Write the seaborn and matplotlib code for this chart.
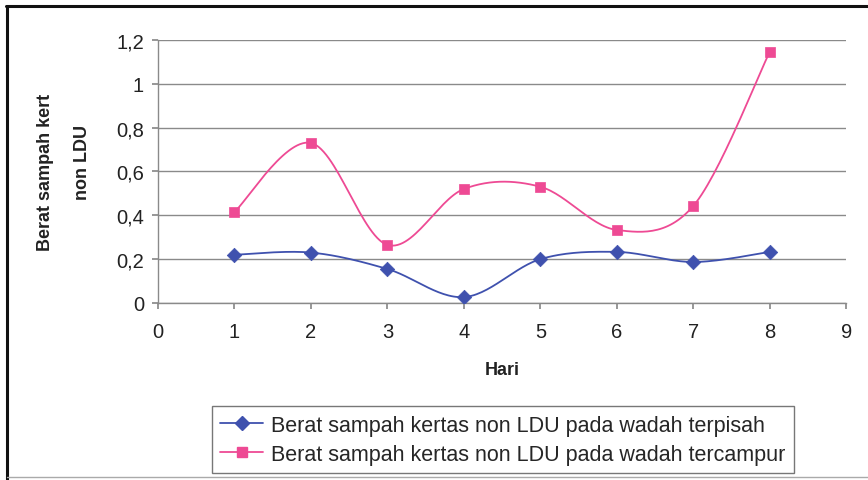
import numpy as np
import pandas as pd
import matplotlib
matplotlib.use("Agg")
import matplotlib.pyplot as plt
from matplotlib.lines import Line2D
import seaborn as sns

hari = [1, 2, 3, 4, 5, 6, 7, 8]
terpisah = [0.22, 0.23, 0.155, 0.027, 0.20, 0.233, 0.187, 0.233]
tercampur = [0.415, 0.73, 0.265, 0.52, 0.53, 0.333, 0.443, 1.146]
label_terpisah = "Berat sampah kertas non LDU pada wadah terpisah"
label_tercampur = "Berat sampah kertas non LDU pada wadah tercampur"
x_ticks = [0, 1, 2, 3, 4, 5, 6, 7, 8, 9]
y_ticks = [0, 0.2, 0.4, 0.6, 0.8, 1.0, 1.2]
y_tick_labels = ["0", "0,2", "0,4", "0,6", "0,8", "1", "1,2"]

BLUE = "#3F51AE"
PINK = "#EE4A94"

sns.set_theme(style="white")
plt.rcParams["font.family"] = ["Liberation Sans", "DejaVu Sans"]


def smooth(xs, ys, n=30):
    """Bezier smoothing through each point (Catmull-Rom style control points)."""
    P = np.column_stack([xs, ys]).astype(float)
    out = []
    for i in range(len(P) - 1):
        p0 = P[i - 1] if i > 0 else P[i]
        p1, p2 = P[i], P[i + 1]
        p3 = P[i + 2] if i + 2 < len(P) else P[i + 1]
        c1 = p1 + (p2 - p0) / 6.0
        c2 = p2 - (p3 - p1) / 6.0
        t = np.linspace(0, 1, n, endpoint=(i == len(P) - 2))[:, None]
        seg = ((1 - t) ** 3) * p1 + 3 * ((1 - t) ** 2) * t * c1 + 3 * (1 - t) * t ** 2 * c2 + t ** 3 * p2
        out.append(seg)
    pts = np.vstack(out)
    return pts[:, 0], pts[:, 1]


fig = plt.figure(figsize=(8.68, 4.81), dpi=100)
ax = fig.add_axes([0.182, 0.368, 0.793, 0.547])

series = [(terpisah, label_terpisah, BLUE, "D", 8),
          (tercampur, label_tercampur, PINK, "s", 8)]
for vals, lab, col, mk, ms in series:
    sx, sy = smooth(hari, vals)
    curve = pd.DataFrame({"x": sx, "y": sy, "seri": lab})
    sns.lineplot(data=curve, x="x", y="y", ax=ax, color=col, lw=1.3,
                 sort=False, estimator=None, legend=False, zorder=3)
    pts = pd.DataFrame({"Hari": hari, "Berat": vals})
    sns.scatterplot(data=pts, x="Hari", y="Berat", ax=ax, color=col, marker=mk,
                    s=ms ** 2 * 0.85, edgecolor=col, linewidth=0.5, zorder=4, legend=False)

ax.set_xlim(0, 9)
ax.set_ylim(0, 1.2)
ax.set_xticks(x_ticks)
ax.set_xticklabels([str(v) for v in x_ticks], fontsize=14.5)
ax.set_yticks(y_ticks)
ax.set_yticklabels(y_tick_labels, fontsize=14.5)
ax.yaxis.grid(True, color="#8a8a8a", lw=1.0)
ax.xaxis.grid(False)
for side in ["top", "right"]:
    ax.spines[side].set_visible(False)
for side in ["left", "bottom"]:
    ax.spines[side].set_color("#8a8a8a")
    ax.spines[side].set_linewidth(1.0)
ax.tick_params(axis="both", direction="out", length=4, color="#8a8a8a",
               colors="#222222", pad=6, bottom=True, left=True)
ax.tick_params(axis="x", pad=10)

ax.set_xlabel("Hari", fontsize=13, fontweight="bold", color="#222222", labelpad=14)
ax.set_ylabel("")
fig.text(0.052, 0.642, "Berat sampah kert", rotation=90, fontsize=13,
         fontweight="bold", color="#222222", ha="center", va="center")
fig.text(0.0945, 0.663, "non LDU", rotation=90, fontsize=13,
         fontweight="bold", color="#222222", ha="center", va="center")

handles = [Line2D([], [], color=BLUE, marker="D", ms=7, lw=1.3),
           Line2D([], [], color=PINK, marker="s", ms=7, lw=1.3)]
leg = fig.legend(handles, [label_terpisah, label_tercampur], loc="upper left",
                 bbox_to_anchor=(0.244, 0.153), fontsize=15.5, frameon=True,
                 fancybox=False, handlelength=2.0, handletextpad=0.35,
                 borderpad=0.4, labelspacing=0.35, borderaxespad=0)
leg.get_frame().set_edgecolor("#555555")
leg.get_frame().set_linewidth(1.0)

# chart area border: heavy top and left edges, faint bottom edge
fig.add_artist(Line2D([0.007, 1.0], [0.986, 0.986], transform=fig.transFigure,
                      color="#111111", lw=2.2))
fig.add_artist(Line2D([0.008, 0.008], [0.0, 0.986], transform=fig.transFigure,
                      color="#111111", lw=2.2))
fig.add_artist(Line2D([0.008, 1.0], [0.006, 0.006], transform=fig.transFigure,
                      color="#aaaaaa", lw=1.0))

fig.savefig("out.png", dpi=100)
